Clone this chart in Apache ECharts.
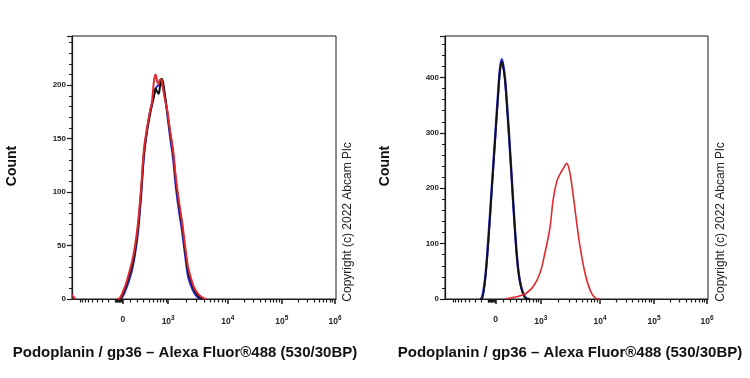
<!DOCTYPE html>
<html>
<head>
<meta charset="utf-8">
<script src="https://cdn.jsdelivr.net/npm/echarts@6/dist/echarts.min.js"></script>
<style>html,body{margin:0;padding:0;background:#fff;}#c{width:750px;height:378px;}</style>
</head>
<body>
<div id="c"></div>
<script>
// ---- Data (x in display channels 0..1024 of the biexponential axis) ----
const xTickChannels = [197, 373, 604, 814, 1020];
const xTickLabels = ['0', '10{s|3}', '10{s|4}', '10{s|5}', '10{s|6}'];

const leftChannels = [178,186,198,209,221,233,244,256,268,279,291,303,310,318,324,330,336,341,347,353,361,369,380,392,403,415,427,438,450,462,473,485,497,508,520];
const leftBlack = [0,0,5,12,21,31,45,67,100,136,157,173,181,190,197,194,192,198,206,203,190,176,156,137,110,88,69,47,26,16,9,4,1,0,0];
const leftBlue  = [0,0,3,9,17,27,41,62,96,133,158,176,183,190,196,199,200,201,201,198,188,174,152,131,104,82,63,42,21,12,6,2,0,0,0];
const leftRed   = [0,1,7,14,24,35,49,71,104,140,160,176,184,204,210,204,201,205,205,197,186,177,158,139,113,91,72,51,30,19,11,6,3,1,0];
const leftRedEdgeChannels = [0, 6, 14];
const leftRedEdge = [4, 2, 0];

const rightChannels = [136,143,156,169,182,195,208,214,221,227,234,246,260,273,285,299,318,331];
const rightBlack = [0,0,34,106,197,287,377,412,428,418,393,318,215,119,52,16,0,0];
const rightBlue  = [0,1,36,110,200,290,380,415,433,422,397,320,217,121,54,18,1,0];
const rightRedChannels = [234,245,269,292,315,343,370,389,409,421,435,448,461,474,487,500,513,526,545,565,584,604];
const rightRed = [0,1,3,6,10,22,47,83,130,179,212,226,236,245,226,184,137,94,47,16,2,0];

const yMaxLeft = 246, yIntervalLeft = 50;
const yMaxRight = 475, yIntervalRight = 100;

const xTitle = 'Podoplanin / gp36 \u2013 Alexa Fluor\u00AE488 (530/30BP)';
const yTitle = 'Count';
const copyright = 'Copyright (c) 2022 Abcam Plc';

// ---- biexponential-like axis helper for minor tick positions ----
function chan(v) {
  const c0 = xTickChannels[0], c3 = xTickChannels[1];
  if (Math.abs(v) < 1000) {
    const f = Math.asinh(Math.abs(v) / 300) / Math.asinh(1000 / 300);
    return c0 + Math.sign(v) * (c3 - c0) * f;
  }
  const l = Math.log10(v);
  const d = Math.floor(l) - 3;
  const frac = l - Math.floor(l);
  if (d >= 3) return xTickChannels[4];
  return xTickChannels[1 + d] + frac * (xTickChannels[2 + d] - xTickChannels[1 + d]);
}
const minorVals = [];
for (let k = 1; k <= 9; k++) minorVals.push(-10 * k, -100 * k, 100 * k);
minorVals.push(-1000);
for (let k = 2; k <= 9; k++) minorVals.push(1000 * k, 10000 * k, 100000 * k);
const minorChannels = minorVals.map(chan).filter(c => c >= 0 && c <= 1024).map(c => Math.round(c * 10) / 10);

const pairs = (xs, ys) => xs.map((x, i) => [x, ys[i]]);

const chart = echarts.init(document.getElementById('c'), null, { renderer: 'canvas' });

const axisColor = '#1a1a1a';
const FONT = 'Liberation Sans, Arial, sans-serif';
function xAxes(gi) {
  return [
    {
      gridIndex: gi, type: 'value', min: 0, max: 1024, position: 'bottom',
      axisLine: { show: true, lineStyle: { color: axisColor, width: 1.2 } },
      splitLine: { show: false },
      axisTick: { show: true, customValues: xTickChannels, length: 5, inside: false, lineStyle: { color: axisColor, width: 1.5 } },
      axisLabel: {
        customValues: xTickChannels, margin: 16, color: '#222', fontSize: 8.5, fontWeight: 'bold',
        fontFamily: FONT,
        formatter: v => { const i = xTickChannels.indexOf(v); return i >= 0 ? xTickLabels[i] : ''; },
        rich: { s: { fontSize: 6.5, fontWeight: 'bold', color: '#222', fontFamily: FONT, padding: [0, 0, 7, 0] } }
      }
    },
    {
      gridIndex: gi, type: 'value', min: 0, max: 1024, position: 'bottom',
      axisLine: { show: false }, splitLine: { show: false }, axisLabel: { show: false },
      axisTick: { show: true, customValues: minorChannels, length: 3.5, lineStyle: { color: axisColor, width: 1.2 } }
    }
  ];
}
function yAxis(gi, max, interval) {
  return {
    gridIndex: gi, type: 'value', min: 0, max: max, interval: interval,
    axisLine: { show: true, lineStyle: { color: axisColor, width: 1.2 } },
    splitLine: { show: false },
    axisTick: { show: true, length: 5, lineStyle: { color: axisColor, width: 1.2 } },
    minorTick: { show: true, splitNumber: 5, length: 3, lineStyle: { color: axisColor, width: 1 } },
    axisLabel: { showMaxLabel: false, margin: 6, color: '#222', fontSize: 8, fontWeight: 'bold', fontFamily: FONT }
  };
}
function line(xi, yi, data, color, width) {
  return {
    type: 'line', xAxisIndex: xi, yAxisIndex: yi, data: data, showSymbol: false, symbol: 'none',
    smooth: 0.35, lineStyle: { color: color, width: width || 2 }, animation: false
  };
}
const BLACK = '#111111', BLUE = '#2a2ad6', RED = '#df2a2f';

const texts = [];
[[185, 12], [570, 385]].forEach(([cx, yx]) => {
  texts.push({ type: 'text', x: cx, y: 353, style: { text: xTitle, font: 'bold 15px "Liberation Sans", Arial, sans-serif', fill: '#111', align: 'center', verticalAlign: 'middle' } });
  texts.push({ type: 'text', x: yx, y: 166, rotation: Math.PI / 2, style: { text: yTitle, font: 'bold 14px "Liberation Sans", Arial, sans-serif', fill: '#111', align: 'center', verticalAlign: 'middle' } });
});
[348, 721].forEach(x => {
  texts.push({ type: 'text', x: x, y: 222, rotation: Math.PI / 2, style: { text: copyright, font: '12px "Liberation Sans", Arial, sans-serif', fill: '#222', align: 'center', verticalAlign: 'middle' } });
});

chart.setOption({
  animation: false,
  backgroundColor: '#fff',
  grid: [
    { left: 72, top: 36, width: 264, height: 263, show: true, borderColor: axisColor, borderWidth: 1, backgroundColor: 'transparent' },
    { left: 445, top: 36, width: 263, height: 263, show: true, borderColor: axisColor, borderWidth: 1, backgroundColor: 'transparent' }
  ],
  xAxis: [...xAxes(0), ...xAxes(1)],
  yAxis: [yAxis(0, yMaxLeft, yIntervalLeft), yAxis(1, yMaxRight, yIntervalRight)],
  series: [
    line(0, 0, pairs(leftChannels, leftBlue), BLUE),
    line(0, 0, pairs(leftChannels, leftBlack), BLACK),
    line(0, 0, pairs(leftChannels, leftRed), RED),
    line(0, 0, pairs(leftRedEdgeChannels, leftRedEdge), RED),
    line(2, 1, pairs(rightChannels, rightBlue), BLUE, 2.4),
    line(2, 1, pairs(rightChannels, rightBlack), BLACK, 1.8),
    line(2, 1, pairs(rightRedChannels, rightRed), RED, 1.6)
  ],
  graphic: texts
});
</script>
</body>
</html>
